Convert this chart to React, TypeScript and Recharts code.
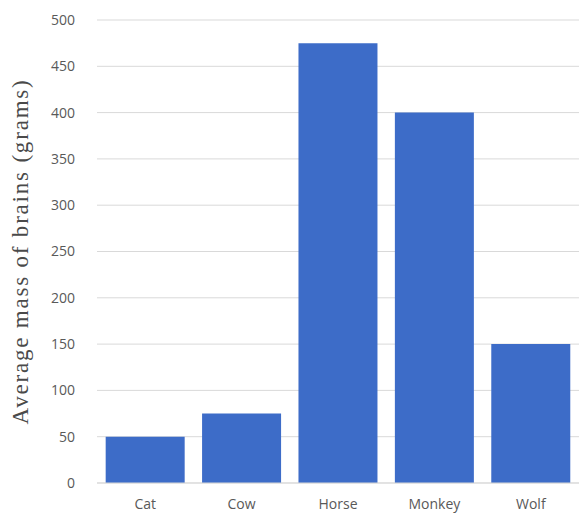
import React from "react";
import { BarChart, Bar, XAxis, YAxis, CartesianGrid } from "recharts";

const categories = ["Cat", "Cow", "Horse", "Monkey", "Wolf"];
const brainMass = [50, 75, 475, 400, 150];
const yTicks = [0, 50, 100, 150, 200, 250, 300, 350, 400, 450, 500];

const data = categories.map((c, i) => ({ name: c, value: brainMass[i] }));

const YLabel = (props: any) => {
  const { viewBox } = props;
  const cy = viewBox.y + viewBox.height / 2;
  return (
    <text
      x={20}
      y={cy}
      transform={`rotate(-90, 20, ${cy})`}
      textAnchor="middle"
      dominantBaseline="central"
      fontFamily="'Liberation Serif', 'DejaVu Serif', serif"
      fontSize={23}
      letterSpacing={1.8}
      fill="#4a4a4a"
    >
      Average mass of brains (grams)
    </text>
  );
};

export default function App() {
  return (
    <div style={{ position: "absolute", left: 0, top: 0, background: "#fff" }}>
      <BarChart
        width={579}
        height={525}
        data={data}
        margin={{ top: 20, right: 0, bottom: 12, left: 0 }}
        barCategoryGap="9%"
      >
        <CartesianGrid vertical={false} stroke="#d9d9d9" strokeWidth={1} />
        <XAxis
          dataKey="name"
          tickLine={false}
          axisLine={{ stroke: "#d9d9d9" }}
          height={30}
          tickMargin={10}
          tick={{ fill: "#595959", fontSize: 14, fontFamily: "'Open Sans', sans-serif" }}
        />
        <YAxis
          width={97}
          domain={[0, 500]}
          ticks={yTicks}
          interval={0}
          tickLine={false}
          axisLine={false}
          tickMargin={16}
          tick={{ fill: "#595959", fontSize: 14, fontFamily: "'Open Sans', sans-serif" }}
          label={<YLabel />}
        />
        <Bar dataKey="value" fill="#3d6cc8" isAnimationActive={false} />
      </BarChart>
    </div>
  );
}
